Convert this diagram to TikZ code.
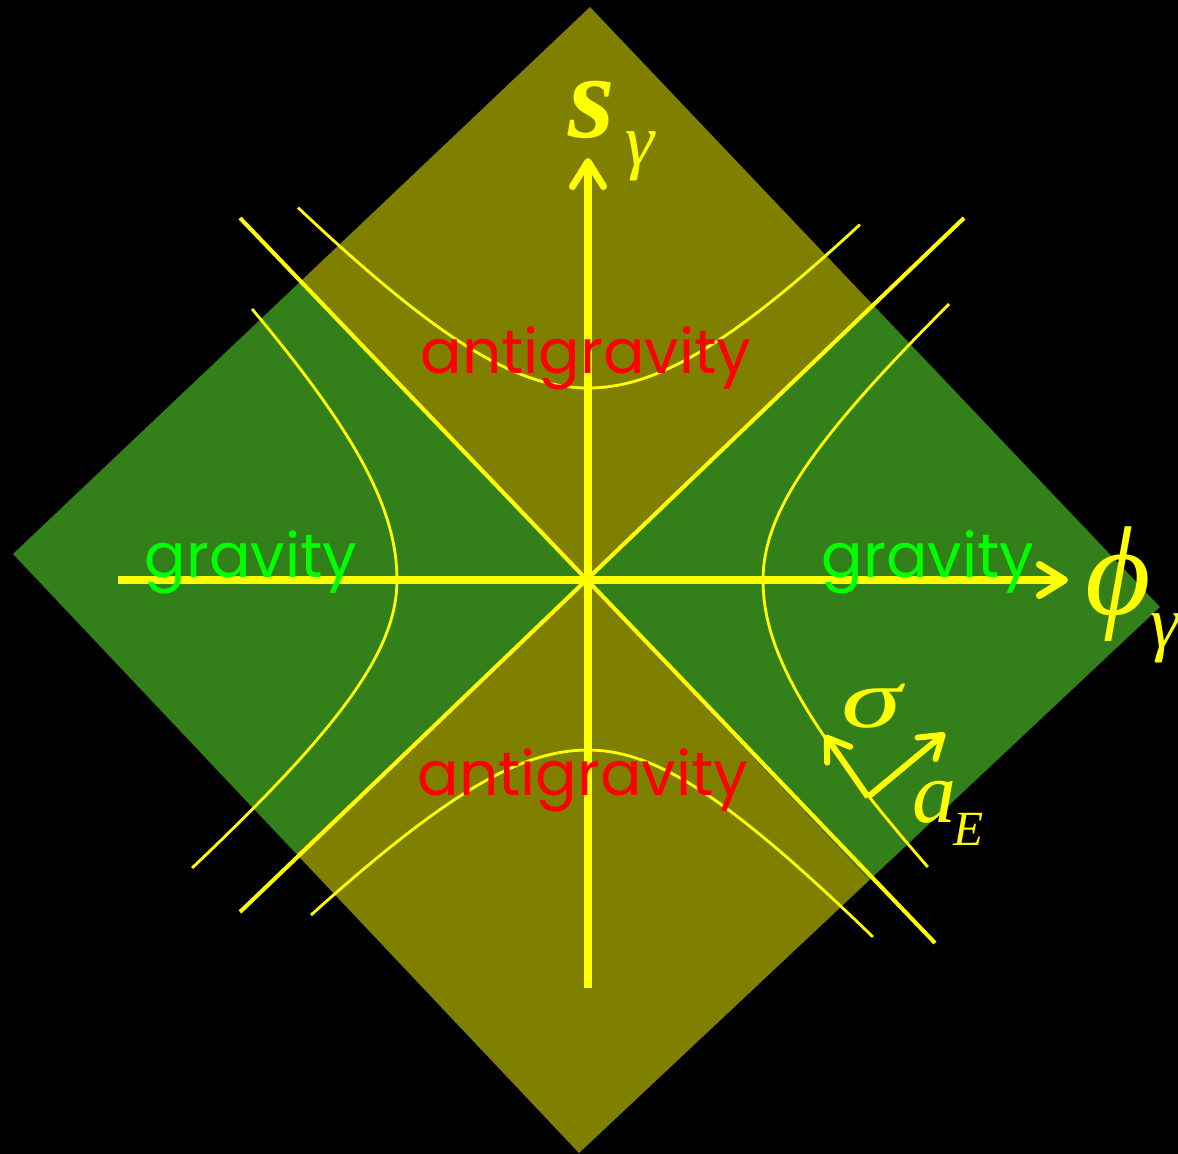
\documentclass[tikz,border=0pt]{standalone}
\usepackage{graphicx}
\usepackage{fontspec}
\setmainfont{Liberation Serif}
\newfontfamily\comicfont{Poppins}
\usetikzlibrary{arrows.meta, calc}
\definecolor{olivezone}{RGB}{128,128,0}
\definecolor{greenzone}{RGB}{51,128,26}
\definecolor{axisyellow}{RGB}{255,255,0}
\definecolor{gravgreen}{RGB}{0,255,0}
\definecolor{antired}{RGB}{255,0,0}

\begin{document}
\begin{tikzpicture}[
    x=0.02cm, y=-0.02cm,
    diag/.style={axisyellow, line width=2.3pt},
    hyper/.style={axisyellow, line width=1.6pt},
    axis/.style={axisyellow, line width=4pt,
                 -{Straight Barb[length=0.5cm, width=0.62cm, line cap=round, line join=round]}},
    frame/.style={axisyellow, line width=3.4pt,
                  -{Straight Barb[length=0.42cm, width=0.56cm, line cap=round, line join=round]}},
    region/.style={font=\comicfont\fontsize{35}{35}\selectfont, inner sep=0pt, anchor=base},
    sym/.style={text=axisyellow, inner sep=0pt, anchor=base},
  ]
    \fill[black] (0,0) rectangle (1178,1154);
    \useasboundingbox (0,0) rectangle (1178,1154);

    % diamond split into four zones
    \coordinate (top)   at (590,7);
    \coordinate (left)  at (13,554);
    \coordinate (bot)   at (579,1153);
    \coordinate (right) at (1160,607);
    \coordinate (c)     at (586,580);
    \coordinate (tl) at ($(top)!0.5!(left)$);
    \coordinate (tr) at ($(top)!0.5!(right)$);
    \coordinate (bl) at ($(bot)!0.5!(left)$);
    \coordinate (br) at ($(bot)!0.5!(right)$);

    \fill[olivezone] (top) -- (tr) -- (c) -- (tl) -- cycle;
    \fill[olivezone] (bot) -- (br) -- (c) -- (bl) -- cycle;
    \fill[greenzone] (left) -- (tl) -- (c) -- (bl) -- cycle;
    \fill[greenzone] (right) -- (tr) -- (c) -- (br) -- cycle;

    % light cone
    \coordinate (d1a) at (240,218);
    \coordinate (d1b) at (935,943);
    \coordinate (d2a) at (964,218);
    \coordinate (d2b) at (240,912);
    \draw[diag] (d1a) -- (d1b);
    \draw[diag] (d2a) -- (d2b);

    % hyperbolas
    \draw[hyper] plot[smooth, domain=-2.9:2.72, samples=41, variable=\t]
      ({588+100*\t}, {580-100*sqrt(3.6864+1.21*\t*\t)});
    \draw[hyper] plot[smooth, domain=-2.77:0, samples=21, variable=\t]
      ({588+100*\t}, {580+100*sqrt(2.89+1.086*\t*\t)})
      -- plot[smooth, domain=0:2.85, samples=21, variable=\t]
      ({588+100*\t}, {580+100*sqrt(2.89+1.213*\t*\t)});
    \draw[hyper] plot[smooth, domain=-2.71:0, samples=21, variable=\t]
      ({588-100*sqrt(3.6481+1.04*\t*\t)}, {580+100*\t})
      -- plot[smooth, domain=0:2.88, samples=21, variable=\t]
      ({588-100*sqrt(3.6481+1.45*\t*\t)}, {580+100*\t});
    \draw[hyper] plot[smooth, domain=-2.76:0, samples=21, variable=\t]
      ({588+100*sqrt(3.0625+1.31*\t*\t)}, {580+100*\t})
      -- plot[smooth, domain=0:2.87, samples=21, variable=\t]
      ({588+100*sqrt(3.0625+1.03*\t*\t)}, {580+100*\t});

    % axes
    \coordinate (xstart) at (118,580);
    \coordinate (xend)   at (1068,580);
    \coordinate (ystart) at (588,988);
    \coordinate (yend)   at (588,158);
    \draw[axis] (xstart) -- (xend);
    \draw[axis] (ystart) -- (yend);

    % local frame
    \coordinate (fo) at (868,797);
    \coordinate (fs) at (825,735);
    \coordinate (fa) at (945,733);
    \draw[frame] (fo) -- (fs);
    \draw[frame] (fo) -- (fa);

    \node[region, text=antired] (anti1) at (586,373) {antigravity};
    \node[region, text=antired] (anti2) at (583,795) {antigravity};
    \node[region, text=gravgreen] (grav1) at (251,577) {gravity};
    \node[region, text=gravgreen] (grav2) at (928,577) {gravity};

    \node[sym, font=\fontsize{68}{68}\selectfont\bfseries\itshape] (slbl) at (592,137) {s};
    \node[sym, font=\fontsize{42}{42}\selectfont\itshape] (sgam) at (640,165) {γ};
    \node[sym, font=\fontsize{72}{72}\selectfont\itshape] (phil) at (1118,614) {ϕ};
    \node[sym, anchor=base west, font=\fontsize{42}{42}\selectfont\itshape] (phigam) at (1150,647) {γ};
    \node[sym, font=\fontsize{48}{48}\selectfont\itshape] (sigl) at (872,727) {\scalebox{1.45}[1]{σ}};
    \node[sym, font=\fontsize{50}{50}\selectfont\itshape] (albl) at (934,822) {a};
    \node[sym, font=\fontsize{28}{28}\selectfont\itshape] (asub) at (969,845) {E};
  \end{tikzpicture}
\end{document}
